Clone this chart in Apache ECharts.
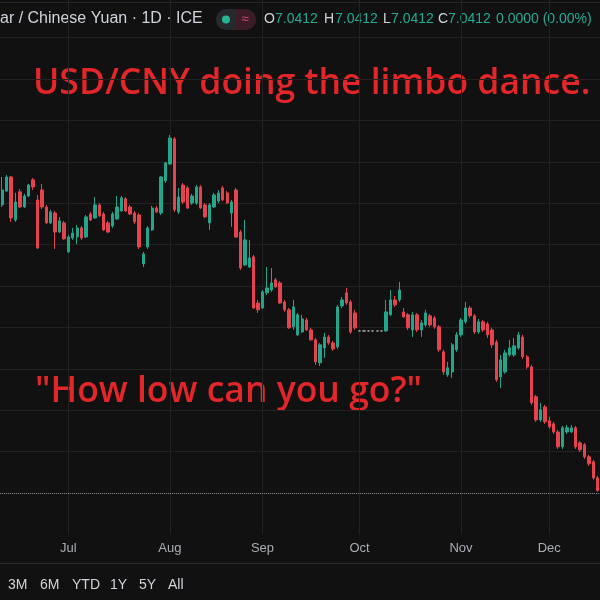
<!DOCTYPE html>
<html><head><meta charset="utf-8">
<script src="https://cdn.jsdelivr.net/npm/echarts@6/dist/echarts.min.js"></script>
<style>html,body{margin:0;padding:0;background:#111111;}#c{width:600px;height:600px;}</style>
</head><body><div id="c"></div>
<script>
// Trading days (categories)
const junDays = [10,11,12,13,16,17,18,19,20,23,24,25,26,27,30];
const julDays = [1,2,3,4,7,8,9,10,11,14,15,16,17,18,21,22,23,24,25,28,29,30,31];
const augDays = [1,4,5,6,7,8,11,12,13,14,15,18,19,20,21,22,25,26,27,28,29];
const sepDays = [1,2,3,4,5,8,9,10,11,12,15,16,17,18,19,22,23,24,25,26,29,30];
const octDays = [1,2,3,6,7,8,9,10,13,14,15,16,17,20,21,22,23,24,27,28,29,30,31];
const novDays = [3,4,5,6,7,10,11,12,13,14,17,18,19,20,21,24,25,26,27,28];
const decDays = [1,2,3,4,5,8,9,10,11,12,15,16];
const monthLabels = {'06':'Jun','07':'Jul','08':'Aug','09':'Sep','10':'Oct','11':'Nov','12':'Dec'};

const open = [
7.1792,7.1859,7.1927,7.1719,7.1855,7.1782,7.1835,7.1913,7.1816,7.1864,
7.1782,7.1705,7.1753,7.1661,7.1705,7.1565,7.1632,7.1637,7.1681,7.1637,
7.1748,7.1729,7.1792,7.1748,7.1705,7.1690,7.1724,7.1763,7.1821,7.1782,
7.1753,7.1743,7.1507,7.1589,7.1671,7.1777,7.1753,7.1908,7.1990,7.2111,
7.1758,7.1888,7.1874,7.1801,7.1801,7.1879,7.1792,7.1705,7.1782,7.1811,
7.1874,7.1850,7.1753,7.1864,7.1661,7.1502,7.1492,7.1541,7.1318,7.1294,
7.1367,7.1381,7.1430,7.1415,7.1323,7.1285,7.1203,7.1164,7.1178,7.1236,
7.1188,7.1140,7.1029,7.1101,7.1154,7.1125,7.1106,7.1304,7.1367,7.1323,
7.1270,7.1183,7.1183,7.1183,7.1183,7.1183,7.1183,7.1183,7.1261,7.1333,
7.1333,7.1275,7.1261,7.1188,7.1261,7.1188,7.1212,7.1256,7.1246,7.1203,
7.1082,7.0971,7.0985,7.1092,7.1164,7.1227,7.1294,7.1256,7.1178,7.1227,
7.1217,7.1188,7.1130,7.0961,7.0985,7.1067,7.1067,7.1101,7.1154,7.1058,
7.1009,7.0865,7.0753,7.0816,7.0749,7.0734,7.0695,7.0623,7.0695,7.0695,
7.0715,7.0642,7.0633,7.0575,7.0551,7.0473
];
const close = [
7.1864,7.1927,7.1729,7.1806,7.1782,7.1835,7.1888,7.1879,7.1584,7.1782,
7.1705,7.1758,7.1661,7.1715,7.1628,7.1637,7.1656,7.1681,7.1632,7.1734,
7.1719,7.1792,7.1739,7.1671,7.1661,7.1748,7.1782,7.1826,7.1763,7.1748,
7.1710,7.1589,7.1555,7.1681,7.1777,7.1758,7.1927,7.1995,7.2115,7.1768,
7.1830,7.1806,7.1777,7.1835,7.1879,7.1777,7.1734,7.1792,7.1840,7.1850,
7.1816,7.1801,7.1806,7.1637,7.1487,7.1623,7.1536,7.1294,7.1285,7.1372,
7.1391,7.1415,7.1396,7.1318,7.1285,7.1198,7.1299,7.1261,7.1241,7.1188,
7.1140,7.1034,7.1116,7.1154,7.1125,7.1096,7.1299,7.1333,7.1318,7.1178,
7.1198,7.1183,7.1183,7.1183,7.1183,7.1183,7.1183,7.1275,7.1333,7.1309,
7.1381,7.1251,7.1198,7.1261,7.1188,7.1222,7.1270,7.1212,7.1203,7.1092,
7.0985,7.1005,7.1116,7.1164,7.1236,7.1294,7.1256,7.1178,7.1227,7.1188,
7.1164,7.1116,7.0947,7.1043,7.1077,7.1101,7.1111,7.1164,7.1058,7.1009,
7.0836,7.0753,7.0802,7.0744,7.0720,7.0695,7.0623,7.0715,7.0715,7.0715,
7.0623,7.0609,7.0575,7.0541,7.0473,7.0412
];
const low = [
7.1782,7.1855,7.1710,7.1710,7.1777,7.1777,7.1830,7.1864,7.1579,7.1772,
7.1700,7.1700,7.1579,7.1656,7.1623,7.1560,7.1623,7.1603,7.1623,7.1632,
7.1715,7.1724,7.1734,7.1666,7.1656,7.1681,7.1719,7.1758,7.1758,7.1743,
7.1700,7.1579,7.1492,7.1579,7.1666,7.1753,7.1743,7.1898,7.1985,7.1758,
7.1748,7.1797,7.1772,7.1792,7.1792,7.1772,7.1729,7.1671,7.1777,7.1801,
7.1811,7.1797,7.1686,7.1632,7.1478,7.1497,7.1487,7.1290,7.1270,7.1290,
7.1357,7.1372,7.1391,7.1314,7.1275,7.1193,7.1188,7.1159,7.1174,7.1183,
7.1135,7.1019,7.1014,7.1053,7.1116,7.1087,7.1096,7.1294,7.1309,7.1169,
7.1188,7.1183,7.1183,7.1183,7.1183,7.1183,7.1183,7.1178,7.1256,7.1299,
7.1323,7.1246,7.1188,7.1154,7.1178,7.1154,7.1203,7.1203,7.1193,7.1082,
7.0971,7.0961,7.0956,7.1082,7.1154,7.1217,7.1246,7.1169,7.1169,7.1178,
7.1149,7.1101,7.0937,7.0908,7.0976,7.1058,7.1058,7.1092,7.1048,7.1000,
7.0826,7.0744,7.0744,7.0734,7.0710,7.0686,7.0613,7.0613,7.0686,7.0691,
7.0613,7.0599,7.0565,7.0531,7.0464,7.0406
];
const high = [
7.1927,7.1937,7.1932,7.1850,7.1869,7.1845,7.1893,7.1922,7.1840,7.1893,
7.1792,7.1768,7.1763,7.1734,7.1715,7.1647,7.1681,7.1695,7.1690,7.1743,
7.1758,7.1830,7.1801,7.1758,7.1715,7.1758,7.1835,7.1835,7.1830,7.1792,
7.1763,7.1753,7.1565,7.1690,7.1787,7.1787,7.1932,7.2000,7.2130,7.2120,
7.1874,7.1898,7.1884,7.1845,7.1888,7.1888,7.1801,7.1801,7.1850,7.1864,
7.1884,7.1859,7.1816,7.1874,7.1671,7.1719,7.1623,7.1550,7.1333,7.1381,
7.1492,7.1487,7.1439,7.1425,7.1333,7.1294,7.1333,7.1270,7.1261,7.1246,
7.1198,7.1149,7.1125,7.1174,7.1164,7.1135,7.1309,7.1347,7.1391,7.1333,
7.1285,7.1183,7.1183,7.1183,7.1183,7.1183,7.1183,7.1333,7.1381,7.1352,
7.1420,7.1294,7.1270,7.1275,7.1270,7.1236,7.1285,7.1265,7.1256,7.1212,
7.1092,7.1034,7.1125,7.1178,7.1246,7.1323,7.1304,7.1265,7.1241,7.1236,
7.1227,7.1198,7.1140,7.1067,7.1092,7.1140,7.1149,7.1178,7.1164,7.1067,
7.1019,7.0874,7.0836,7.0826,7.0768,7.0744,7.0705,7.0724,7.0729,7.0729,
7.0724,7.0652,7.0642,7.0584,7.0560,7.0483
];
const lastPrice = 7.0412;
const yMin = 7.02, yMax = 7.2782, yStep = 0.02;

const pad = d => (d < 10 ? '0' : '') + d;
const dates = [].concat(
  junDays.map(d => '2025-06-' + pad(d)),
  julDays.map(d => '2025-07-' + pad(d)),
  augDays.map(d => '2025-08-' + pad(d)),
  sepDays.map(d => '2025-09-' + pad(d)),
  octDays.map(d => '2025-10-' + pad(d)),
  novDays.map(d => '2025-11-' + pad(d)),
  decDays.map(d => '2025-12-' + pad(d))
);
const isMonthStart = (idx) => idx > 0 && dates[idx].slice(5, 7) !== dates[idx - 1].slice(5, 7);
const ohlc = dates.map((d, i) => [open[i], close[i], low[i], high[i]]);

const UP = '#22a58a', DOWN = '#e5434d';
const chart = echarts.init(document.getElementById('c'), null, {renderer: 'canvas'});
const txt = (x, y, text, font, fill, align) => ({
  type: 'text', x: x, y: y, silent: true,
  style: {text: text, font: font, fill: fill, align: align || 'left', verticalAlign: 'middle',
          textAlign: align || 'left', textVerticalAlign: 'middle'}
});
const uiFont = '"Liberation Sans", Arial, sans-serif';
const bigFont = '600 35.5px "Open Sans", "Noto Sans", sans-serif';

chart.setOption({
  backgroundColor: '#111111',
  animation: false,
  grid: {left: 0, top: 0, width: 601.4, height: 534.4, containLabel: false},
  xAxis: {
    type: 'category', data: dates, boundaryGap: true,
    axisLine: {show: false}, axisTick: {show: false},
    axisLabel: {
      show: true, interval: (idx) => isMonthStart(idx), margin: 8,
      formatter: (v) => monthLabels[v.slice(5, 7)],
      color: '#aaadb5', fontSize: 13, fontFamily: 'Liberation Sans', hideOverlap: false
    },
    splitLine: {show: true, interval: (idx) => isMonthStart(idx), alignWithLabel: true,
      lineStyle: {color: '#222222', width: 1}}
  },
  yAxis: {
    type: 'value', min: yMin, max: yMax, interval: yStep, scale: false,
    axisLine: {show: false}, axisTick: {show: false}, axisLabel: {show: false},
    splitLine: {show: true, showMinLine: false, showMaxLine: false, lineStyle: {color: '#222222', width: 1}}
  },
  series: [{
    type: 'candlestick', data: ohlc, barWidth: 2.8,
    itemStyle: {color: UP, color0: DOWN, borderColor: UP, borderColor0: DOWN,
                borderColorDoji: '#a9b3b1', borderWidth: 1},
    markLine: {
      silent: true, symbol: ['none', 'none'], label: {show: false},
      lineStyle: {color: '#7d8087', type: 'dotted', width: 1},
      data: [{yAxis: lastPrice}]
    }
  }],
  graphic: [
    {type: 'rect', silent: true, shape: {x: 0, y: 2, width: 600, height: 1}, style: {fill: '#262626'}},
    txt(0, 19, 'ar / Chinese Yuan · 1D · ICE', '16px ' + uiFont, '#d1d4dc'),
    {type: 'rect', silent: true, shape: {x: 216, y: 9, width: 40, height: 21, r: 10.5}, style: {fill: '#262a2f'}},
    {type: 'rect', silent: true, shape: {x: 236, y: 9, width: 20, height: 21, r: [0, 10.5, 10.5, 0]}, style: {fill: '#3b1d28'}},
    {type: 'circle', silent: true, shape: {cx: 226, cy: 19.5, r: 4}, style: {fill: '#27b596'}},
    txt(245, 19, '≈', '13px ' + uiFont, '#d8457a', 'center'),
    txt(264, 19, 'O', '14px ' + uiFont, '#d1d4dc'),
    txt(275, 19, '7.0412', '14px ' + uiFont, '#22ab94'),
    txt(324, 19, 'H', '14px ' + uiFont, '#d1d4dc'),
    txt(335, 19, '7.0412', '14px ' + uiFont, '#22ab94'),
    txt(383, 19, 'L', '14px ' + uiFont, '#d1d4dc'),
    txt(391, 19, '7.0412', '14px ' + uiFont, '#22ab94'),
    txt(438, 19, 'C', '14px ' + uiFont, '#d1d4dc'),
    txt(448, 19, '7.0412', '14px ' + uiFont, '#22ab94'),
    txt(496, 19, '0.0000 (0.00%)', '14px ' + uiFont, '#22ab94'),
    txt(33, 84, 'USD/CNY doing the limbo dance.', bigFont, '#e3262a'),
    txt(35, 392, '"How low can you go?"', bigFont, '#e3262a'),
    {type: 'rect', silent: true, shape: {x: 0, y: 563, width: 600, height: 1}, style: {fill: '#2c2c2c'}},
    txt(8, 585, '3M', '14px ' + uiFont, '#d1d4dc'),
    txt(40, 585, '6M', '14px ' + uiFont, '#d1d4dc'),
    txt(72, 585, 'YTD', '14px ' + uiFont, '#d1d4dc'),
    txt(110, 585, '1Y', '14px ' + uiFont, '#d1d4dc'),
    txt(139, 585, '5Y', '14px ' + uiFont, '#d1d4dc'),
    txt(168, 585, 'All', '14px ' + uiFont, '#d1d4dc')
  ]
});
</script></body></html>
